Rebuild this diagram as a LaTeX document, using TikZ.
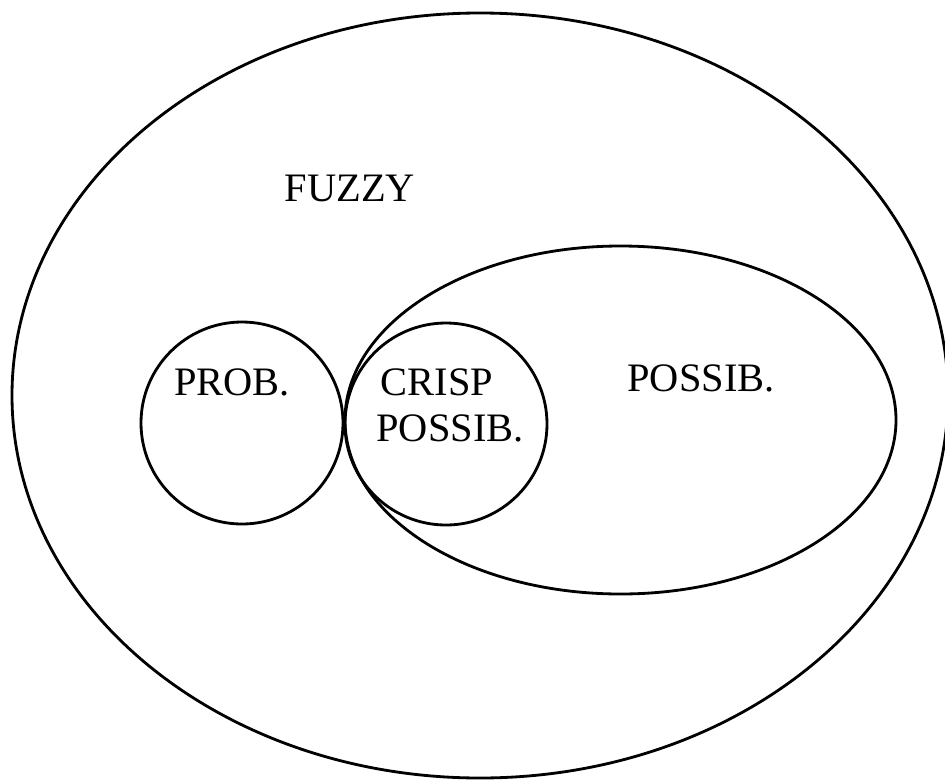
\documentclass[tikz,border=0pt]{standalone}
\usepackage{fontspec}
\setmainfont{Liberation Serif}
\usetikzlibrary{positioning}

\begin{document}
\begin{tikzpicture}[line width=1.6pt,every node/.style={font=\fontsize{23}{27}\selectfont,inner sep=0pt}]
    \useasboundingbox (0,0) rectangle (18.9,-15.64);
    \draw (9.6,-7.91) ellipse [x radius=9.36cm,y radius=7.65cm];
    \draw (12.41,-8.4) ellipse [x radius=5.51cm,y radius=3.48cm];
    \draw (4.84,-8.46) circle [radius=2.02cm];
    \draw (8.92,-8.48) circle [radius=2.02cm];

    \node (fuzzy) at (7.0,-3.76) {FUZZY};
    \node (prob) at (4.64,-7.64) {PROB.};
    \node (crisp) at (8.74,-7.64) {CRISP};
    \node (cposs) at (9.0,-8.56) {POSSIB.};
    \node (poss) at (14.02,-7.56) {POSSIB.};
\end{tikzpicture}
\end{document}
